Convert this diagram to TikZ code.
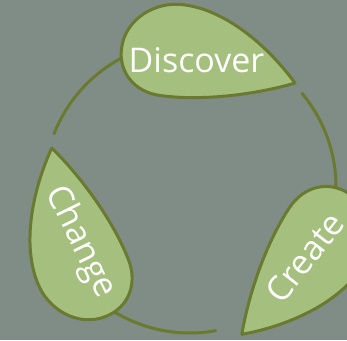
\documentclass[tikz,border=0pt]{standalone}
\usepackage{fontspec}
\setmainfont{Open Sans}
\definecolor{bggray}{RGB}{128,140,134}
\definecolor{leafgreen}{RGB}{165,192,126}
\definecolor{olivedark}{RGB}{106,122,46}
\begin{document}
\begin{tikzpicture}[x=1pt,y=1pt,
  leaf/.style={draw=olivedark, fill=leafgreen, line width=3pt, line join=round},
  ring/.style={draw=olivedark, line width=3pt},
  lbl/.style={text=white, font=\fontsize{34}{34}\selectfont, inner sep=0pt,
              text height=24pt, text depth=0pt, anchor=center},
  leafshape/.pic={
    \draw[leaf] (176.5,0) .. controls (145,33) and (98,64) .. (55,63)
      .. controls (28,63) and (0,42) .. (0,12)
      .. controls (0,-12) and (18,-30) .. (45,-30)
      .. controls (95,-30) and (150,-12) .. cycle;
  }]
  \useasboundingbox (0,0) rectangle (347,340);
  \clip (0,0) rectangle (347,340);
  \fill[bggray] (0,0) rectangle (347,340);

  % centre of the cycle
  \coordinate (O) at (190,153);

  % connecting arcs, each starting just after a leaf tip
  \coordinate (rA) at ([shift={(40.2:146)}]O);
  \coordinate (bA) at ([shift={(-79.5:146)}]O);
  \coordinate (lA) at ([shift={(158.9:146)}]O);
  \draw[ring] (rA) arc[start angle=40.2, end angle=-3, radius=146];
  \draw[ring] (bA) arc[start angle=-79.5, end angle=-123, radius=146];
  \draw[ring] (lA) arc[start angle=158.9, end angle=116, radius=146];

  % leaves
  \path (120,280) pic[rotate=-7.5] {leafshape};
  \path (339,153) pic[rotate=-123.4] {leafshape};
  \path (117,28) pic[rotate=111.7] {leafshape};

  % labels
  \node[lbl] (discover) at (196.5,279.5) {Discover};
  \node[lbl, rotate=52] (create) at (305,82.5) {Create};
  \node[lbl, rotate=-64] (change) at (83,99) {Change};
\end{tikzpicture}
\end{document}
